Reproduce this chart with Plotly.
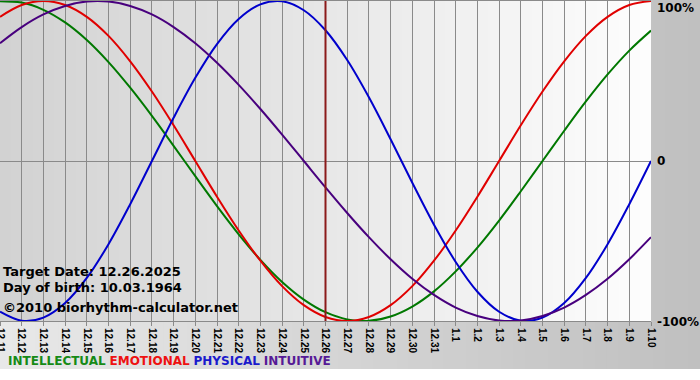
import plotly.graph_objects as go

dates = ["12.11", "12.12", "12.13", "12.14", "12.15", "12.16", "12.17", "12.18",
         "12.19", "12.20", "12.21", "12.22", "12.23", "12.24", "12.25", "12.26",
         "12.27", "12.28", "12.29", "12.30", "12.31", "1.1", "1.2", "1.3", "1.4",
         "1.5", "1.6", "1.7", "1.8", "1.9", "1.10"]

intellectual = [0.999, 0.990, 0.945, 0.866, 0.756, 0.618, 0.458, 0.282, 0.095, -0.095,
                -0.282, -0.458, -0.618, -0.756, -0.866, -0.945, -0.990, -0.999, -0.972,
                -0.910, -0.815, -0.690, -0.541, -0.372, -0.189, 0.0, 0.189, 0.372, 0.541,
                0.690, 0.815]
emotional = [0.901, 0.975, 1.0, 0.975, 0.901, 0.782, 0.623, 0.434, 0.223, 0.0,
             -0.223, -0.434, -0.623, -0.782, -0.901, -0.975, -1.0, -0.975, -0.901,
             -0.782, -0.623, -0.434, -0.223, 0.0, 0.223, 0.434, 0.623, 0.782, 0.901,
             0.975, 1.0]
physical = [-0.942, -0.998, -0.979, -0.888, -0.731, -0.520, -0.270, 0.0, 0.270, 0.520,
            0.731, 0.888, 0.979, 0.998, 0.942, 0.817, 0.631, 0.398, 0.136, -0.136,
            -0.398, -0.631, -0.817, -0.942, -0.998, -0.979, -0.888, -0.731, -0.520,
            -0.270, 0.0]
intuitive = [0.736, 0.837, 0.916, 0.969, 0.997, 0.997, 0.969, 0.916, 0.837, 0.736,
             0.614, 0.476, 0.325, 0.165, 0.0, -0.165, -0.325, -0.476, -0.614, -0.736,
             -0.837, -0.916, -0.969, -0.997, -0.997, -0.969, -0.916, -0.837, -0.736,
             -0.614, -0.476]

target_date = "12.26"
y_ticks = [-1, 0, 1]
y_labels = ["-100%", "0", "100%"]

series = [
    ("INTELLECTUAL", intellectual, "#007800", "#168a16"),
    ("EMOTIONAL", emotional, "#e00000", "#ee1111"),
    ("PHYSICAL", physical, "#0000cc", "#1a1acc"),
    ("INTUITIVE", intuitive, "#48007e", "#561a96"),
]

fig = go.Figure()
for name, vals, col, _ in series:
    fig.add_trace(go.Scatter(x=dates, y=vals, mode="lines", name=name,
                             line=dict(color=col, width=2, shape="spline"),
                             showlegend=False, hoverinfo="skip"))

W, H = 700, 380
ml, mr, mt, mb = 0, 49, 1, 59
pw, ph = W - ml - mr, H - mt - mb

def px2paper_x(px):
    return (px - ml) / pw

def px2paper_y(py):
    return (H - mb - py) / ph

def lerp(c0, c1, t):
    v = round(c0 + (c1 - c0) * t)
    return f"rgb({v},{v},{v})"

shapes = []
# outer gradient panel (light left -> darker right)
n_out = 60
x0p, x1p = px2paper_x(0), px2paper_x(W)
for i in range(n_out):
    a = x0p + (x1p - x0p) * i / n_out
    b = x0p + (x1p - x0p) * (i + 1) / n_out + 0.002
    shapes.append(dict(type="rect", xref="paper", yref="paper", x0=a, x1=b,
                       y0=px2paper_y(369), y1=px2paper_y(0), layer="below",
                       line=dict(width=0), fillcolor=lerp(232, 192, i / (n_out - 1))))
# plot-area gradient (darker left -> white right)
n_in = 60
for i in range(n_in):
    a = i / n_in
    b = (i + 1) / n_in + 0.002
    shapes.append(dict(type="rect", xref="paper", yref="paper", x0=a, x1=min(b, 1),
                       y0=0, y1=1, layer="below",
                       line=dict(width=0), fillcolor=lerp(210, 253, i / (n_in - 1))))
# target date line (category index)
t_idx = dates.index(target_date)
shapes.append(dict(type="line", xref="x", yref="paper", x0=t_idx, x1=t_idx,
                   y0=0, y1=1, line=dict(color="#8b1a1a", width=2), layer="above"))

annotations = []
bold_font = dict(family="DejaVu Sans", size=13, color="#000000")
for txt, py in [("Target Date: 12.26.2025", 271),
                ("Day of birth: 10.03.1964", 287),
                ("©2010 biorhythm-calculator.net", 307)]:
    annotations.append(dict(xref="paper", yref="paper", x=px2paper_x(1), y=px2paper_y(py),
                            xanchor="left", yanchor="middle", showarrow=False,
                            text=f"<b>{txt}</b>", font=bold_font))

legend_text = " ".join(f'<span style="color:{lc}"><b>{n}</b></span>' for n, _, _, lc in series)
annotations.append(dict(xref="paper", yref="paper", x=px2paper_x(6), y=px2paper_y(361),
                        xanchor="left", yanchor="middle", showarrow=False,
                        text=legend_text, font=dict(family="DejaVu Sans", size=12)))

label_py = {1: 8, 0: 161, -1: 322}
for v, t in zip(y_ticks, y_labels):
    annotations.append(dict(xref="paper", yref="paper", x=px2paper_x(655), y=px2paper_y(label_py[v]),
                            xanchor="left", yanchor="middle", showarrow=False,
                            text=f"<b>{t}</b>", font=dict(family="DejaVu Sans", size=12, color="#000")))

fig.update_layout(
    width=W, height=H,
    margin=dict(l=ml, r=mr, t=mt, b=mb, pad=0, autoexpand=False),
    paper_bgcolor="#ffffff", plot_bgcolor="rgba(0,0,0,0)",
    shapes=shapes, annotations=annotations,
    xaxis=dict(type="category", range=[0, len(dates) - 1], showgrid=True,
               gridcolor="#8a8a8a", gridwidth=1, tickangle=90, automargin=False,
               tickfont=dict(family="Liberation Sans", size=10, color="#000"),
               ticks="outside", ticklen=4, tickcolor="#8a8a8a",
               showline=True, linecolor="#8a8a8a", linewidth=1, mirror=True,
               zeroline=False, fixedrange=True),
    yaxis=dict(range=[-1, 1], showgrid=False, zeroline=True, zerolinecolor="#8a8a8a",
               zerolinewidth=1, showticklabels=False, ticks="", showline=False,
               automargin=False, fixedrange=True),
)
fig.update_xaxes(tickprefix="<b>", ticksuffix="</b>")

fig.write_html("out.html", config={"displayModeBar": False},
               post_script="document.body.style.margin='0px';")
